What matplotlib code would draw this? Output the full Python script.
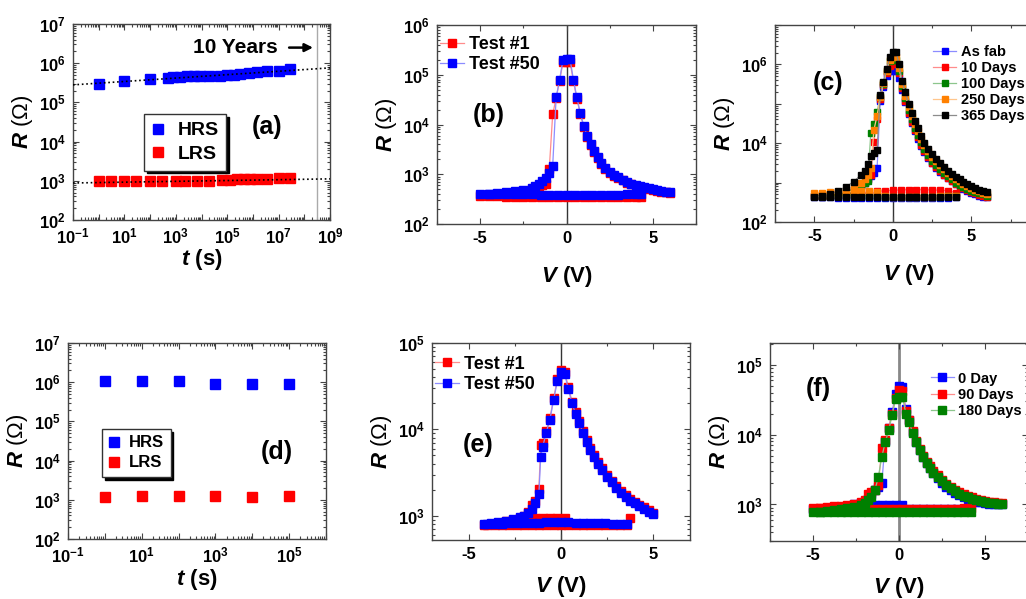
import matplotlib
matplotlib.use('Agg')
import matplotlib.pyplot as plt
import matplotlib.ticker as mticker
from matplotlib.colors import to_rgba
import numpy as np

plt.rcParams['font.family'] = ['Liberation Sans', 'DejaVu Sans']
plt.rcParams['font.weight'] = 'bold'
plt.rcParams['mathtext.fontset'] = 'custom'
plt.rcParams['mathtext.rm'] = 'Liberation Sans:bold'
plt.rcParams['mathtext.bf'] = 'Liberation Sans:bold'
plt.rcParams['mathtext.it'] = 'Liberation Sans:italic:bold'

# ---------------- data: (a) retention, 10 years extrapolation ----------------
t_a_hrs = [1, 10, 100, 500, 800, 1.4e3, 2.7e3, 5e3, 9e3, 2e4, 5.4e4, 1e5, 1.8e5,
           3.2e5, 7e5, 1.4e6, 3.5e6, 1e7, 2.9e7]
r_a_hrs = [2.9e5, 3.5e5, 4.0e5, 4.3e5, 4.4e5, 4.5e5, 4.6e5, 4.6e5, 4.7e5, 4.7e5,
           4.8e5, 5.0e5, 5.1e5, 5.3e5, 5.5e5, 5.8e5, 6.3e5, 6.5e5, 7.0e5]
t_a_lrs = [1, 3, 10, 28, 100, 300, 1e3, 2.2e3, 6.6e3, 2e4, 6.3e4, 1.3e5, 2.4e5,
           4.4e5, 8e5, 1.4e6, 3.5e6, 1e7, 2.9e7]
r_a_lrs = [980, 980, 990, 990, 1000, 1000, 1000, 1000, 1000, 1000, 1030, 1060,
           1080, 1100, 1100, 1110, 1130, 1150, 1160]
fit_t = [0.1, 1e9]
fit_hrs = [2.8e5, 7.6e5]
fit_lrs = [880, 1.12e3]
ten_years = 3.15e8

# ---------------- data: (d) retention ----------------
t_d = [1, 10, 100, 1e3, 1e4, 1e5]
r_d_hrs = [1.05e6, 1.05e6, 1.1e6, 9.2e5, 9.2e5, 8.8e5]
r_d_lrs = [1.2e3, 1.25e3, 1.25e3, 1.28e3, 1.15e3, 1.25e3]

# ---------------- data: (b) R-V, test #1 / #50 ----------------
vb_flat = [4.3, 4.0, 3.5, 3.0, 2.5, 2.0, 1.5, 1.0, 0.5, 0.0, -0.5, -1.0, -1.5,
           -2.0, -2.5, -3.0, -3.5, -4.0, -4.5, -5.0]
vb_left = [-4.5, -4.0, -3.5, -3.0, -2.5, -2.0, -1.8, -1.6, -1.4, -1.2, -1.0, -0.8,
           -0.6, -0.4, -0.2]
vb_right = [0.0, 0.2, 0.4, 0.6, 0.8, 1.0, 1.2, 1.4, 1.6, 1.8, 2.0, 2.25, 2.5, 2.75,
            3.0, 3.25, 3.5, 3.75, 4.0, 4.25, 4.5, 4.75, 5.0, 5.25, 5.5, 5.75, 6.0]
rb1_flat = [350, 350, 348, 346, 345, 345, 344, 344, 344, 345, 345, 346, 347, 348,
            350, 352, 355, 358, 360, 362]
rb1_left = [390, 400, 420, 440, 470, 510, 540, 570, 600, 640, 1250, 1.6e4, 3.4e4,
            7.5e4, 1.8e5]
rb1_right = [1.8e5, 1.8e5, 7.5e4, 3.3e4, 1.6e4, 9.0e3, 5.6e3, 3.9e3, 2.8e3, 2.1e3,
             1.6e3, 1.3e3, 1.08e3, 940, 840, 750, 680, 625, 585, 555, 530, 505, 480,
             460, 445, 435, 425]
rb50_flat = [400, 395, 392, 390, 388, 386, 385, 385, 385, 385, 386, 388, 390, 392,
             394, 396, 398, 400, 400, 400]
rb50_left = [410, 420, 440, 460, 490, 530, 570, 640, 720, 850, 1050, 1470, 3.5e4,
             8e4, 2.0e5]
rb50_right = [2.1e5, 2.1e5, 8e4, 3.5e4, 1.7e4, 9.4e3, 5.9e3, 4.1e3, 2.9e3, 2.2e3,
              1.67e3, 1.35e3, 1.13e3, 980, 870, 780, 710, 650, 610, 575, 550, 525,
              500, 480, 460, 450, 440]

# ---------------- data: (c) R-V after aging ----------------
vc_flat = [4.0, 3.5, 3.0, 2.5, 2.0, 1.5, 1.0, 0.5, 0.0, -0.5, -1.0, -1.5, -2.0,
           -2.5, -3.0, -3.5, -4.0, -4.5, -5.0]
vc_left = [-4.5, -4.0, -3.5, -3.0, -2.5, -2.0, -1.8, -1.6, -1.4, -1.2, -1.0, -0.8,
           -0.6, -0.4, -0.2]
vc_right = [0.0, 0.2, 0.4, 0.6, 0.8, 1.0, 1.2, 1.4, 1.6, 1.8, 2.0, 2.25, 2.5, 2.75,
            3.0, 3.25, 3.5, 3.75, 4.0, 4.25, 4.5, 4.75, 5.0, 5.25, 5.5, 5.75, 6.0]
c_labels = ['As fab', '10 Days', '100 Days', '250 Days', '365 Days']
c_colors = ['#0000ff', '#ff0000', '#008000', '#ff8000', '#000000']
rc_flat = [
    [420, 415, 412, 410, 410, 410, 410, 410, 410, 410, 410, 410, 412, 414, 416, 418, 420, 420, 420],
    [560, 620, 640, 650, 660, 660, 660, 650, 640, 620, 600, 560, 530, 510, 500, 490, 480, 470, 460],
    [450, 445, 440, 440, 440, 440, 440, 440, 440, 440, 445, 450, 470, 480, 480, 470, 460, 450, 450],
    [460, 450, 445, 440, 440, 440, 440, 440, 440, 445, 590, 610, 600, 590, 580, 570, 565, 560, 555],
    [440, 435, 432, 430, 430, 430, 430, 430, 430, 430, 430, 430, 430, 430, 430, 432, 435, 438, 440],
]
rc_left = [
    [440, 460, 490, 540, 620, 800, 1.0e3, 1.2e3, 1.5e3, 1.8e3, 2.3e3, 1.2e5, 2.7e5, 5e5, 7e5],
    [450, 470, 510, 560, 650, 800, 950, 1.2e3, 1.6e3, 1.1e4, 4e4, 1.3e5, 3e5, 6e5, 9e5],
    [460, 480, 520, 580, 650, 800, 950, 1.1e3, 1.8e4, 3e4, 6.3e4, 1.5e5, 3.2e5, 7e5, 1.2e6],
    [470, 500, 560, 640, 760, 950, 1.2e3, 1.6e3, 2.4e3, 2.2e4, 5e4, 1.5e5, 3.3e5, 7e5, 1.3e6],
    [470, 500, 600, 780, 1.05e3, 1.6e3, 2.0e3, 2.9e3, 4.8e3, 5.8e3, 6.8e3, 1.7e5, 3.6e5, 7.5e5, 1.5e6],
]
rc_right = [
    [7e5, 7e5, 4.5e5, 2.2e5, 1.1e5, 5.5e4, 3.2e4, 2e4, 1.3e4, 8.5e3, 6e3, 4.2e3, 3.1e3,
     2.4e3, 1.9e3, 1.55e3, 1.28e3, 1.08e3, 920, 800, 700, 620, 560, 510, 470, 440, 420],
    [1.0e6, 1.0e6, 6e5, 2.5e5, 1.2e5, 6e4, 3.5e4, 2.2e4, 1.4e4, 9e3, 6.3e3, 4.4e3, 3.2e3,
     2.5e3, 2e3, 1.6e3, 1.3e3, 1.1e3, 940, 820, 720, 640, 580, 530, 490, 460, 440],
    [1.3e6, 1.3e6, 7e5, 2.8e5, 1.4e5, 7e4, 4e4, 2.5e4, 1.6e4, 1.05e4, 7.2e3, 5e3, 3.6e3,
     2.8e3, 2.2e3, 1.8e3, 1.45e3, 1.2e3, 1.0e3, 880, 780, 690, 620, 570, 530, 500, 470],
    [1.5e6, 1.5e6, 8e5, 3.2e5, 1.6e5, 8.5e4, 5e4, 3.1e4, 2.0e4, 1.3e4, 9e3, 6.2e3, 4.5e3,
     3.5e3, 2.8e3, 2.2e3, 1.8e3, 1.5e3, 1.25e3, 1.07e3, 940, 830, 740, 660, 600, 550, 510],
    [2.1e6, 2.1e6, 1.0e6, 3.8e5, 2.0e5, 1.0e5, 6e4, 3.6e4, 2.4e4, 1.5e4, 1.0e4, 7e3, 5.2e3,
     4.0e3, 3.2e3, 2.5e3, 2.0e3, 1.7e3, 1.4e3, 1.2e3, 1.05e3, 920, 800, 720, 660, 620, 580],
]

# ---------------- data: (e) R-V, test #1 / #50 ----------------
ve_flat = [3.6, 3.2, 2.8, 2.4, 2.0, 1.6, 1.2, 0.8, 0.4, 0.0, -0.4, -0.8, -1.2, -1.6,
           -2.0, -2.4, -2.8, -3.2, -3.6, -4.0, -4.2]
ve_band = [0.2, -0.2, -0.6, -1.0, -1.4, -1.8]
ve_left = [-3.8, -3.4, -3.0, -2.6, -2.2, -2.0, -1.8, -1.6, -1.4, -1.2, -1.1, -1.0,
           -0.8, -0.6, -0.4, -0.2]
ve_right = [0.0, 0.2, 0.4, 0.6, 0.8, 1.0, 1.2, 1.4, 1.6, 1.8, 2.0, 2.25, 2.5, 2.75,
            3.0, 3.25, 3.5, 3.75, 4.0, 4.25, 4.5, 4.75, 5.0]
re1_flat = [780, 785, 785, 785, 790, 790, 790, 790, 790, 790, 790, 790, 790, 785,
            785, 780, 780, 780, 775, 775, 775]
re1_band = [950, 950, 945, 945, 950, 960]
re1_left = [800, 830, 860, 900, 950, 1.0e3, 1.1e3, 1.35e3, 1.5e3, 2.05e3, 6.6e3,
            7.0e3, 9.6e3, 1.35e4, 2.3e4, 3.8e4]
re1_right = [4.9e4, 4.6e4, 3.1e4, 2.1e4, 1.6e4, 1.25e4, 9.5e3, 7.6e3, 6.1e3, 5.0e3,
             4.2e3, 3.55e3, 3.0e3, 2.55e3, 2.2e3, 1.93e3, 1.72e3, 1.56e3, 1.45e3,
             1.35e3, 1.25e3, 1.16e3, 1.08e3]
re50_flat = [800, 805, 810, 815, 820, 825, 830, 835, 840, 840, 840, 840, 835, 830,
             825, 820, 815, 810, 800, 800, 800]
re50_left = [820, 840, 870, 910, 960, 1.0e3, 1.08e3, 1.2e3, 1.4e3, 1.8e3, 4.8e3,
             6.2e3, 9.2e3, 1.3e4, 2.2e4, 3.6e4]
re50_right = [4.6e4, 4.4e4, 2.9e4, 2.0e4, 1.5e4, 1.2e4, 9e3, 7.2e3, 5.8e3, 4.8e3,
              4.0e3, 3.4e3, 2.85e3, 2.45e3, 2.1e3, 1.85e3, 1.65e3, 1.5e3, 1.4e3,
              1.3e3, 1.2e3, 1.12e3, 1.05e3]
re1_jump_v = [3.75]
re1_jump_r = [950]

# ---------------- data: (f) R-V after aging ----------------
vf_flat = [4.2, 3.8, 3.4, 3.0, 2.6, 2.2, 1.8, 1.4, 1.0, 0.6, 0.2, -0.2, -0.6, -1.0,
           -1.4, -1.8, -2.2, -2.6, -3.0, -3.4, -3.8, -4.2, -4.6, -5.0]
vf_band = [0.2, -0.2, -0.6, -1.0, -1.4]
vf_left = [-4.6, -4.2, -3.8, -3.4, -3.0, -2.6, -2.2, -2.0, -1.8, -1.6, -1.4, -1.2,
           -1.0, -0.8, -0.6, -0.4, -0.2]
vf_right = [0.0, 0.2, 0.4, 0.6, 0.8, 1.0, 1.2, 1.4, 1.6, 1.8, 2.0, 2.25, 2.5, 2.75,
            3.0, 3.25, 3.5, 3.75, 4.0, 4.25, 4.5, 4.75, 5.0, 5.25, 5.5, 5.75, 6.0]
f_labels = ['0 Day', '90 Days', '180 Days']
f_colors = ['#0000ff', '#ff0000', '#008000']
rf_flat = [
    [1.0e3, 860, 860, 860, 860, 860, 860, 860, 860, 860, 860, 860, 860, 860, 860,
     860, 860, 860, 860, 860, 860, 860, 860, 860],
    [880, 880, 875, 870, 870, 870, 870, 865, 865, 865, 865, 865, 865, 865, 865,
     870, 870, 870, 870, 875, 875, 880, 880, 880],
    [790, 785, 780, 780, 780, 775, 775, 775, 775, 775, 775, 775, 775, 775, 775,
     770, 770, 770, 770, 770, 770, 770, 770, 770],
]
rf0_band = [970, 970, 970, 970, 980]
rf_left = [
    [860, 880, 900, 930, 960, 1.0e3, 1.05e3, 1.1e3, 1.2e3, 1.4e3, 1.6e3, 1.8e3, 2.0e3,
     8.2e3, 1.25e4, 2.1e4, 3.8e4],
    [900, 920, 940, 960, 990, 1.03e3, 1.1e3, 1.15e3, 1.4e3, 1.5e3, 1.6e3, 1.9e3, 6.5e3,
     8.5e3, 1.25e4, 2e4, 3.3e4],
    [790, 810, 830, 860, 890, 930, 990, 1.05e3, 1.15e3, 1.3e3, 1.6e3, 2.5e3, 4.8e3,
     7.8e3, 1.15e4, 1.9e4, 3.2e4],
]
rf_right = [
    [5.0e4, 4.8e4, 2.3e4, 1.6e4, 1.1e4, 7.9e3, 6.0e3, 4.8e3, 3.9e3, 3.3e3, 2.8e3, 2.4e3,
     2.05e3, 1.8e3, 1.6e3, 1.47e3, 1.35e3, 1.27e3, 1.2e3, 1.15e3, 1.1e3, 1.07e3, 1.05e3,
     1.03e3, 1.02e3, 1.01e3, 1.0e3],
    [4.4e4, 4.2e4, 2.2e4, 1.6e4, 1.12e4, 8.2e3, 6.3e3, 5.0e3, 4.1e3, 3.5e3, 3.0e3, 2.6e3,
     2.25e3, 1.98e3, 1.78e3, 1.62e3, 1.5e3, 1.4e3, 1.32e3, 1.26e3, 1.2e3, 1.16e3, 1.12e3,
     1.09e3, 1.07e3, 1.05e3, 1.04e3],
    [3.5e4, 3.5e4, 2.0e4, 1.5e4, 1.05e4, 7.8e3, 6.0e3, 4.8e3, 3.9e3, 3.3e3, 2.85e3, 2.45e3,
     2.15e3, 1.9e3, 1.7e3, 1.55e3, 1.43e3, 1.34e3, 1.26e3, 1.2e3, 1.15e3, 1.11e3, 1.08e3,
     1.06e3, 1.04e3, 1.02e3, 1.0e3],
]

W, H = 1026, 599
fig = plt.figure(figsize=(W / 100, H / 100), dpi=100)


def box(l, t, r, b):
    return [l / W, 1 - b / H, (r - l) / W, (b - t) / H]


SPINE = '#444444'
RLABEL = r'$\mathit{R}$ (Ω)'


def style(ax):
    for s in ax.spines.values():
        s.set_color(SPINE)
        s.set_linewidth(1.0)
    ax.tick_params(which='both', direction='in', top=True, right=True,
                   color=SPINE, labelsize=12, width=0.8)
    ax.tick_params(which='major', length=4, pad=5)
    ax.tick_params(which='minor', length=2)
    for lab in ax.get_xticklabels() + ax.get_yticklabels():
        lab.set_fontweight('bold')


def log_ticks(axis, lo, hi, every=1):
    axis.set_major_locator(mticker.LogLocator(base=10, numticks=100))
    axis.set_minor_locator(mticker.LogLocator(base=10, subs=np.arange(2, 10), numticks=100))

    def fmt(x, pos):
        e = int(round(np.log10(x)))
        if (e - lo) % every == 0 and lo <= e <= hi:
            return r'$\mathdefault{10^{%d}}$' % e
        return ''
    axis.set_major_formatter(mticker.FuncFormatter(fmt))


def lighter(c, a=0.45):
    r, g, b, _ = to_rgba(c)
    return (1 - a * (1 - r), 1 - a * (1 - g), 1 - a * (1 - b))


def sweep(ax, v, r, c, ms, label=None):
    ax.plot(v, r, '-s', color=lighter(c), lw=0.9, mfc=c, mec=c, ms=ms, label=label)


def r_label(ax):
    ax.set_ylabel(RLABEL, fontsize=16, fontweight='normal', labelpad=3)


def v_axis(ax, xlo, xhi, zero_c='#333333', zero_w=1.0, pad=13):
    ax.set_xlim(xlo, xhi)
    ax.set_yscale('log')
    ax.xaxis.set_major_locator(mticker.MultipleLocator(5))
    ax.xaxis.set_minor_locator(mticker.MultipleLocator(2.5))
    ax.xaxis.set_major_formatter(mticker.FuncFormatter(lambda x, p: '%d' % x))
    ax.axvline(0, color=zero_c, lw=zero_w, zorder=1)
    ax.set_xlabel(r'$\mathit{V}$ (V)', fontsize=16, fontweight='bold', labelpad=pad)
    r_label(ax)


# ---------------- (a) ----------------
ax = fig.add_axes(box(73, 24, 330, 220))
ax.set_xscale('log')
ax.set_yscale('log')
ax.set_xlim(0.1, 1e9)
ax.set_ylim(1e2, 1e7)
ax.plot(fit_t, fit_hrs, ':', color='k', lw=1.2, zorder=3)
ax.plot(fit_t, fit_lrs, ':', color='k', lw=1.2, zorder=3)
ax.plot(t_a_hrs, r_a_hrs, 's', color='#0000ff', ms=6.5, label='HRS', zorder=2)
ax.plot(t_a_lrs, r_a_lrs, 's', color='#ff0000', ms=6.5, label='LRS', zorder=2)
ax.axvline(ten_years, color='#aaaaaa', lw=1)
ax.annotate('', xy=(2.8e8, 2.5e6), xytext=(2.0e7, 2.5e6),
            arrowprops=dict(arrowstyle='-|>', color='k', lw=1.8, mutation_scale=12))
ax.text(4.5e3, 2.5e6, '10 Years', fontsize=15, fontweight='bold', va='center')
ax.text(0.755, 0.475, '(a)', transform=ax.transAxes, fontsize=18,
        fontweight='bold', ha='center', va='center')
log_ticks(ax.xaxis, -1, 9, every=2)
log_ticks(ax.yaxis, 2, 7)
style(ax)
ax.legend(loc='upper left', bbox_to_anchor=(0.24, 0.59), fontsize=14,
          handlelength=0.6, handletextpad=0.7, borderpad=0.4, labelspacing=0.3,
          fancybox=False, edgecolor='#333333', framealpha=1,
          shadow={'color': 'k', 'alpha': 1})
ax.set_xlabel(r'$\mathit{t}$ (s)', fontsize=16, fontweight='bold', labelpad=0)
r_label(ax)

# ---------------- (b) ----------------
ax = fig.add_axes(box(437, 25, 696, 224))
sweep(ax, vb_flat + vb_left + vb_right, rb1_flat + rb1_left + rb1_right,
      '#ff0000', 6, 'Test #1')
sweep(ax, vb_flat + vb_left + vb_right, rb50_flat + rb50_left + rb50_right,
      '#0000ff', 6, 'Test #50')
v_axis(ax, -7.5, 7.5)
ax.set_ylim(1e2, 1e6)
log_ticks(ax.yaxis, 2, 6)
style(ax)
ax.text(0.2, 0.55, '(b)', transform=ax.transAxes, fontsize=18,
        fontweight='bold', ha='center', va='center')
ax.legend(loc='upper left', bbox_to_anchor=(-0.03, 1.0), fontsize=13,
          frameon=False, handlelength=1.3, handletextpad=0.3, labelspacing=0.2,
          borderaxespad=0.2)

# ---------------- (c) ----------------
ax = fig.add_axes(box(775, 25, 1042, 222))
for i in range(5):
    sweep(ax, vc_flat + vc_left + vc_right, rc_flat[i] + rc_left[i] + rc_right[i],
          c_colors[i], 5, c_labels[i])
v_axis(ax, -7.5, 9.5)
ax.set_ylim(1e2, 1e7)
log_ticks(ax.yaxis, 2, 6, every=2)
style(ax)
ax.text(0.2, 0.705, '(c)', transform=ax.transAxes, fontsize=18,
        fontweight='bold', ha='center', va='center')
ax.legend(loc='upper left', bbox_to_anchor=(0.57, 0.93), fontsize=10.5,
          frameon=False, handlelength=1.6, handletextpad=0.3, labelspacing=0.15,
          borderaxespad=0.0)

# ---------------- (d) ----------------
ax = fig.add_axes(box(68, 343, 326, 539))
ax.set_xscale('log')
ax.set_yscale('log')
ax.set_xlim(0.1, 1e6)
ax.set_ylim(1e2, 1e7)
ax.plot(t_d, r_d_hrs, 's', color='#0000ff', ms=7, label='HRS')
ax.plot(t_d, r_d_lrs, 's', color='#ff0000', ms=7, label='LRS')
ax.text(0.81, 0.444, '(d)', transform=ax.transAxes, fontsize=18,
        fontweight='bold', ha='center', va='center')
log_ticks(ax.xaxis, -1, 5, every=2)
log_ticks(ax.yaxis, 2, 7)
style(ax)
ax.legend(loc='upper left', bbox_to_anchor=(0.1, 0.605), fontsize=12,
          handlelength=0.6, handletextpad=0.6, borderpad=0.4, labelspacing=0.3,
          fancybox=False, edgecolor='#333333', framealpha=1,
          shadow={'color': 'k', 'alpha': 1})
ax.set_xlabel(r'$\mathit{t}$ (s)', fontsize=16, fontweight='bold', labelpad=1)
r_label(ax)

# ---------------- (e) ----------------
ax = fig.add_axes(box(432, 343, 690, 540))
sweep(ax, ve_flat + ve_left + ve_right, re1_flat + re1_left + re1_right,
      '#ff0000', 6, 'Test #1')
sweep(ax, ve_band, re1_band, '#ff0000', 6)
sweep(ax, re1_jump_v, re1_jump_r, '#ff0000', 6)
sweep(ax, ve_flat + ve_left + ve_right, re50_flat + re50_left + re50_right,
      '#0000ff', 6, 'Test #50')
v_axis(ax, -7, 7, pad=9)
ax.set_ylim(525, 1e5)
log_ticks(ax.yaxis, 3, 5)
style(ax)
ax.text(0.18, 0.48, '(e)', transform=ax.transAxes, fontsize=18,
        fontweight='bold', ha='center', va='center')
ax.legend(loc='upper left', bbox_to_anchor=(-0.03, 0.99), fontsize=13,
          frameon=False, handlelength=1.3, handletextpad=0.3, labelspacing=0.2,
          borderaxespad=0.2)

# ---------------- (f) ----------------
ax = fig.add_axes(box(770, 343, 1028, 541))
for i in range(3):
    sweep(ax, vf_flat + vf_left + vf_right, rf_flat[i] + rf_left[i] + rf_right[i],
          f_colors[i], 5.5, f_labels[i])
    if i == 0:
        sweep(ax, vf_band, rf0_band, f_colors[i], 5.5)
v_axis(ax, -7.5, 7.5, zero_c='#888888', zero_w=2.0, pad=9)
ax.set_ylim(300, 2.05e5)
log_ticks(ax.yaxis, 3, 5)
style(ax)
ax.text(0.186, 0.77, '(f)', transform=ax.transAxes, fontsize=18,
        fontweight='bold', ha='center', va='center')
ax.legend(loc='upper left', bbox_to_anchor=(0.6, 0.885), fontsize=10.5,
          frameon=False, handlelength=1.6, handletextpad=0.3, labelspacing=0.15,
          borderaxespad=0.0)

fig.savefig('out.png', dpi=100)
